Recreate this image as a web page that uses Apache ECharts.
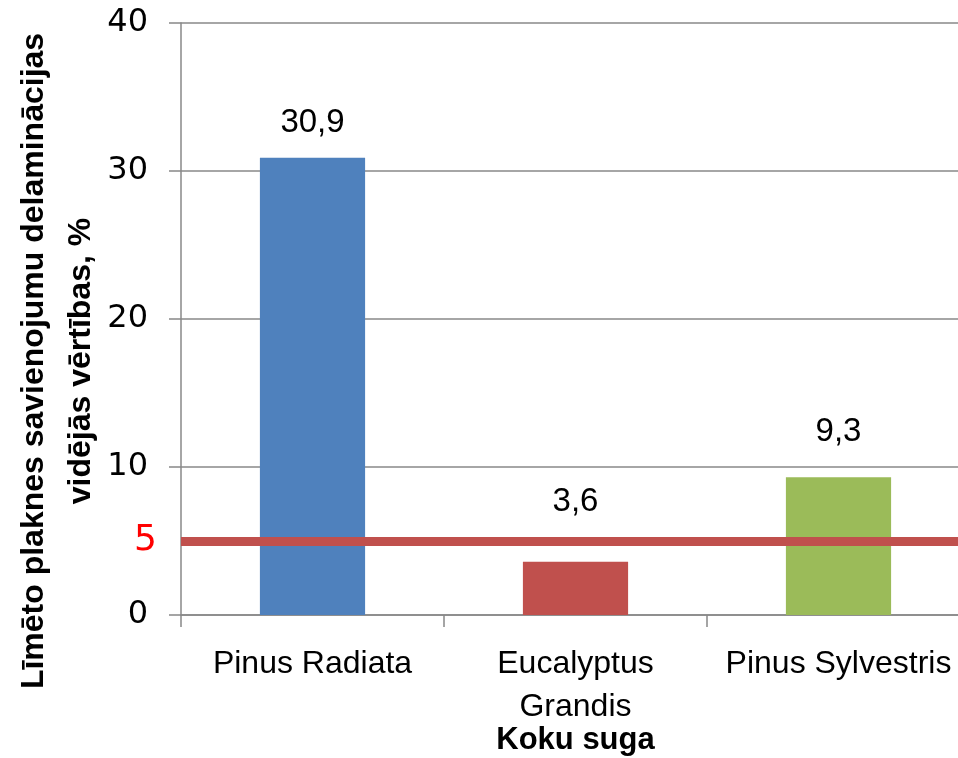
<!DOCTYPE html>
<html>
<head>
<meta charset="utf-8">
<script src="https://cdn.jsdelivr.net/npm/echarts@6/dist/echarts.min.js"></script>
<style>
  html, body { margin: 0; padding: 0; background: #fff; overflow: hidden; }
  #chart { width: 958px; height: 758px; }
</style>
</head>
<body>
<div id="chart"></div>
<script>
// Species and mean delamination values (%)
const categories = ['Pinus Radiata', 'Eucalyptus Grandis', 'Pinus Sylvestris'];
const values = [30.9, 3.6, 9.3];
const barColors = ['#4F81BD', '#C0504D', '#9BBB59'];
// Gap between each bar top and its value label (the short bar's label clears the threshold line)
const labelGaps = [18, 43, 29];
// Threshold line
const thresholdValue = 5;
const thresholdLabel = '5';
// Value axis
const yMin = 0, yMax = 40, yStep = 10;

const yTitle = 'Līmēto plaknes savienojumu delaminācijas\nvidējās vērtības, %';
const xTitle = 'Koku suga';

const textFont = '"Liberation Sans", Arial, sans-serif';
const numFont = '"DejaVu Sans", Verdana, sans-serif';
const axisGray = '#888888';

const chart = echarts.init(document.getElementById('chart'), null, { renderer: 'canvas' });

chart.setOption({
  backgroundColor: '#ffffff',
  animation: false,
  grid: {
    left: 181, top: 23, bottom: 143, right: -12,
    containLabel: false,
    outerBoundsMode: 'none'
  },
  xAxis: {
    type: 'category',
    data: categories,
    axisLine: { lineStyle: { color: axisGray, width: 1.5 } },
    axisTick: { show: true, length: 12, lineStyle: { color: axisGray, width: 1.5 } },
    axisLabel: {
      color: '#000',
      fontFamily: textFont,
      fontSize: 32,
      margin: 28,
      lineHeight: 43,
      interval: 0,
      formatter: name => name.length > 16 ? name.replace(' ', '\n') : name
    },
    name: xTitle,
    nameLocation: 'middle',
    nameGap: 125,
    nameMoveOverlap: false,
    nameTextStyle: {
      color: '#000', fontFamily: textFont, fontWeight: 'bold', fontSize: 31,
      verticalAlign: 'middle'
    }
  },
  yAxis: {
    type: 'value',
    min: yMin,
    max: yMax,
    interval: yStep,
    axisLine: { show: true, lineStyle: { color: axisGray, width: 1.5 } },
    axisTick: { show: true, length: 12, lineStyle: { color: axisGray, width: 1.5 } },
    splitLine: { show: true, lineStyle: { color: axisGray, width: 1.5 } },
    axisLabel: {
      color: '#000',
      fontFamily: numFont,
      fontSize: 32,
      margin: 33
    }
  },
  graphic: [{
    type: 'text',
    x: 58,
    y: 361,
    rotation: Math.PI / 2,
    style: {
      text: yTitle,
      fill: '#000',
      font: 'bold 32px ' + textFont,
      align: 'center',
      verticalAlign: 'middle',
      lineHeight: 47
    }
  }],
  series: [{
    type: 'bar',
    data: values.map((v, i) => ({
      value: v,
      itemStyle: { color: barColors[i] },
      label: { distance: labelGaps[i] }
    })),
    barWidth: '40%',
    label: {
      show: true,
      position: 'top',
      color: '#000',
      fontFamily: textFont,
      fontSize: 33,
      formatter: p => String(p.value).replace('.', ',')
    },
    markLine: {
      silent: true,
      symbol: ['none', 'none'],
      lineStyle: { color: '#C0504D', width: 9, type: 'solid' },
      label: {
        show: true,
        position: 'start',
        distance: 24,
        color: '#FF0000',
        fontFamily: numFont,
        fontSize: 36,
        formatter: thresholdLabel
      },
      data: [{ yAxis: thresholdValue }]
    }
  }]
});
</script>
</body>
</html>
